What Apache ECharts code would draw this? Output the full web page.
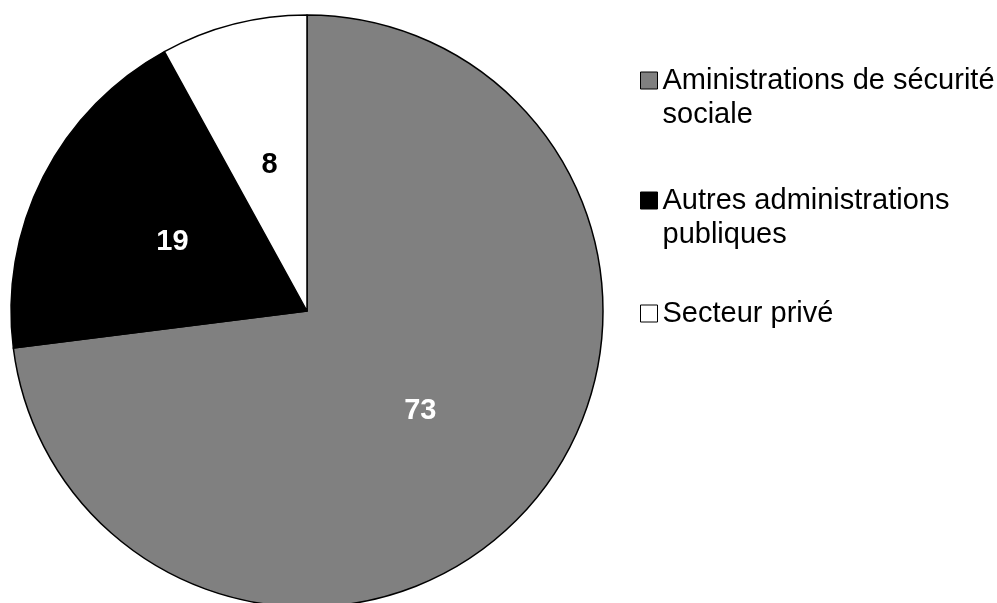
<!DOCTYPE html>
<html>
<head>
<meta charset="utf-8">
<script src="https://cdn.jsdelivr.net/npm/echarts@6/dist/echarts.min.js"></script>
<style>
html,body{margin:0;padding:0;background:#fff;}
#main{width:997px;height:603px;}
</style>
</head>
<body>
<div id="main"></div>
<script>
var categories = ['Aministrations de sécurité sociale', 'Autres administrations publiques', 'Secteur privé'];
var legendLabels = ['Aministrations de sécurité\nsociale', 'Autres administrations\npubliques', 'Secteur privé'];
var values = [73, 19, 8];
var colors = ['#808080', '#000000', '#ffffff'];
var labelColors = ['#ffffff', '#ffffff', '#000000'];

var FONT = '"Liberation Sans", Arial, sans-serif';
var LH = 34;
var legendTops = [29.5, 149.5, 296.5];

var chart = echarts.init(document.getElementById('main'));

var legends = categories.map(function (name, i) {
  var multi = legendLabels[i].indexOf('\n') >= 0;
  return {
    orient: 'vertical',
    left: 640,
    top: legendTops[i],
    padding: 0,
    icon: 'rect',
    itemWidth: 17,
    itemHeight: 17,
    selectedMode: false,
    data: [name],
    itemStyle: { color: colors[i], borderColor: '#000', borderWidth: 1 },
    formatter: function () { return multi ? ' \n' + legendLabels[i] : legendLabels[i]; },
    textStyle: {
      fontFamily: FONT,
      fontSize: 29,
      color: '#000',
      lineHeight: LH
    }
  };
});

chart.setOption({
  animation: false,
  backgroundColor: '#fff',
  legend: legends,
  series: [{
    type: 'pie',
    center: [307, 311],
    radius: 296,
    startAngle: 90,
    clockwise: true,
    avoidLabelOverlap: false,
    emphasis: { disabled: true },
    label: {
      show: true,
      position: 'inside',
      fontFamily: FONT,
      fontSize: 29,
      fontWeight: 'bold',
      formatter: '{c}'
    },
    labelLine: { show: false },
    itemStyle: { borderColor: '#000', borderWidth: 1.5 },
    data: categories.map(function (name, i) {
      return {
        name: name,
        value: values[i],
        itemStyle: { color: colors[i] },
        label: { color: labelColors[i] }
      };
    })
  }]
});
</script>
</body>
</html>
